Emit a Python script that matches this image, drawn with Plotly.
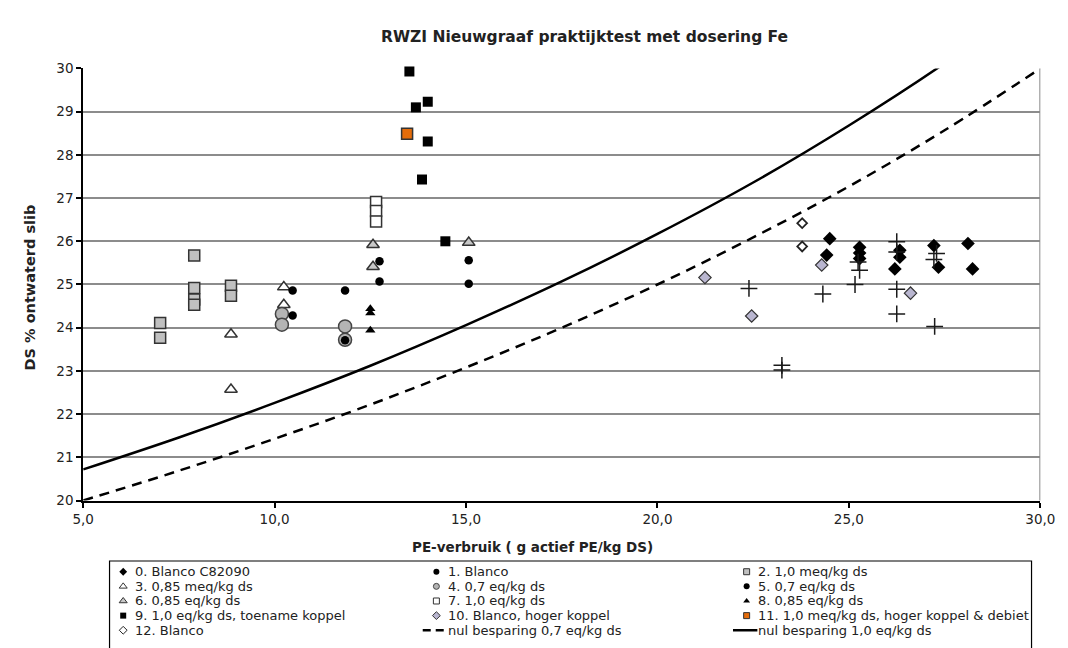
import plotly.graph_objects as go

W, H = 1068, 648

# ---------------- data ----------------
title_text = "RWZI Nieuwgraaf praktijktest met dosering Fe"
x_title = "PE-verbruik ( g actief PE/kg DS)"
y_title = "DS % ontwaterd slib"

names = [
    "0. Blanco C82090", "1. Blanco", "2. 1,0 meq/kg ds",
    "3. 0,85 meq/kg ds", "4. 0,7 eq/kg ds", "5. 0,7 eq/kg ds",
    "6. 0,85 eq/kg ds", "7. 1,0 eq/kg ds", "8. 0,85 eq/kg ds",
    "9. 1,0 eq/kg ds, toename koppel", "10. Blanco, hoger koppel",
    "11. 1,0 meq/kg ds, hoger koppel & debiet", "12. Blanco",
]
line_names = ["nul besparing 0,7 eq/kg ds", "nul besparing 1,0 eq/kg ds"]

s0_x = [24.50, 24.42, 25.28, 25.28, 25.28, 26.33, 26.33, 26.20, 27.22, 27.34, 28.11, 28.23]
s0_y = [26.06, 25.68, 25.86, 25.73, 25.60, 25.79, 25.63, 25.36, 25.90, 25.40, 25.95, 25.36]
s1_x = [12.74, 12.74, 15.07, 15.07]
s1_y = [25.54, 25.07, 25.56, 25.02]
s2_x = [7.01, 7.01, 7.90, 7.90, 7.90, 7.90, 8.86, 8.86]
s2_y = [24.11, 23.77, 25.67, 24.92, 24.65, 24.53, 24.97, 24.74]
s3_x = [8.86, 8.86, 10.24, 10.24]
s3_y = [23.85, 22.57, 24.94, 24.53]
s4_x = [10.19, 10.19, 11.84, 11.84]
s4_y = [24.32, 24.07, 24.03, 23.72]
s5_x = [10.47, 10.47, 11.84, 11.84]
s5_y = [24.86, 24.28, 24.86, 23.71]
s6_x = [12.57, 12.57, 15.07]
s6_y = [25.92, 25.41, 25.97]
s7_x = [12.65, 12.65, 12.65]
s7_y = [26.91, 26.70, 26.46]
s8_x = [12.50, 12.50, 12.50]
s8_y = [24.44, 24.34, 23.94]
s9_x = [13.52, 13.69, 14.00, 14.00, 13.85, 14.46]
s9_y = [29.93, 29.10, 29.23, 28.31, 27.43, 26.00]
s10_x = [21.24, 22.46, 24.29, 26.61]
s10_y = [25.16, 24.27, 25.45, 24.80]
s11_x = [13.46]
s11_y = [28.49]
s12_x = [23.78, 23.78]
s12_y = [26.42, 25.88]
plus_x = [22.39, 23.25, 23.25, 24.32, 25.16, 25.28, 25.24, 26.25, 26.25, 26.25, 26.25, 27.22, 27.29, 27.24]
plus_y = [24.91, 23.13, 23.02, 24.78, 25.00, 25.33, 25.52, 25.99, 25.75, 24.89, 24.32, 25.58, 25.72, 24.03]

curve_x = [5, 7.5, 10, 12.5, 15, 17.5, 20, 22.5, 25, 27.5, 30]
curve_07_y = [20.00, 20.69, 21.43, 22.22, 23.08, 24.00, 25.00, 26.09, 27.27, 28.57, 30.00]
curve_10_y = [20.72, 21.46, 22.26, 23.12, 24.06, 25.07, 26.17, 27.36, 28.68, 30.12, 31.72]

x_ticks = [5, 10, 15, 20, 25, 30]
y_ticks = list(range(20, 31))

series_x = [s0_x, s1_x, s2_x, s3_x, s4_x, s5_x, s6_x, s7_x, s8_x, s9_x, s10_x, s11_x, s12_x]
series_y = [s0_y, s1_y, s2_y, s3_y, s4_y, s5_y, s6_y, s7_y, s8_y, s9_y, s10_y, s11_y, s12_y]

# ---------------- styles ----------------
FONT = "DejaVu Sans"
GRID = "#8c8c8c"
OUT = "#333333"
styles = [
    dict(symbol="diamond", size=10.5, color="black", line=dict(width=0)),
    dict(symbol="circle", size=8.5, color="black", line=dict(width=0)),
    dict(symbol="square", size=11, color="#c0c0c0", line=dict(color=OUT, width=1.5)),
    dict(symbol="triangle-up", size=11, color="white", line=dict(color=OUT, width=1.5)),
    dict(symbol="circle", size=13, color="#b4b4b4", line=dict(color="#444444", width=1.5)),
    dict(symbol="circle", size=8.5, color="black", line=dict(width=0)),
    dict(symbol="triangle-up", size=11, color="#c8c8c8", line=dict(color=OUT, width=1.5)),
    dict(symbol="square", size=11, color="white", line=dict(color=OUT, width=1.5)),
    dict(symbol="triangle-up", size=9, color="black", line=dict(width=0)),
    dict(symbol="square", size=10, color="black", line=dict(width=0)),
    dict(symbol="diamond", size=9.5, color="#b9b6d0", line=dict(color=OUT, width=1.2)),
    dict(symbol="square", size=11, color="#e46c0a", line=dict(color=OUT, width=1.5)),
    dict(symbol="diamond", size=7.5, color="white", line=dict(color="#222222", width=1.8)),
]
legend_sizes = [6, 6, 6, 7, 6, 6, 7, 6, 6, 6, 6, 6, 6]

fig = go.Figure()

# curves
fig.add_trace(go.Scatter(x=curve_x, y=curve_07_y, mode="lines", name=line_names[0],
                         line=dict(color="black", width=2.5, dash="10px,7px", shape="spline"),
                         showlegend=False))
fig.add_trace(go.Scatter(x=curve_x, y=curve_10_y, mode="lines", name=line_names[1],
                         line=dict(color="black", width=2.5, shape="spline"),
                         showlegend=False))

# point series
for nm, sx, sy, st in zip(names, series_x, series_y, styles):
    fig.add_trace(go.Scatter(x=sx, y=sy, mode="markers", name=nm, marker=st,
                             showlegend=False, cliponaxis=False))
fig.add_trace(go.Scatter(x=plus_x, y=plus_y, mode="markers",
                         marker=dict(symbol="cross-thin", size=12,
                                     line=dict(color="#1a1a1a", width=1.5)),
                         showlegend=False, cliponaxis=False))

# ---------------- layout ----------------
x0_px, x1_px, ytop_px, ybot_px = 74, 1055, 62, 505
fig.update_layout(
    width=W, height=H, margin=dict(l=0, r=0, t=0, b=0),
    paper_bgcolor="white", plot_bgcolor="rgba(0,0,0,0)", showlegend=False,
    separators=",.",
    font=dict(family=FONT, size=12, color="#222222"),
    xaxis=dict(domain=[x0_px / W, x1_px / W], range=[5, 30], tickvals=x_ticks,
               tickformat=".1f", ticks="outside", ticklen=5, tickcolor="black", tickwidth=1.5,
               showline=True, linecolor="black", linewidth=2, showgrid=False, zeroline=False,
               ticklabeloverflow="allow",
               tickfont=dict(size=13.5, color="#222222"), anchor="y"),
    yaxis=dict(domain=[1 - ybot_px / H, 1 - ytop_px / H], range=[20, 30], tickvals=y_ticks,
               ticks="outside", ticklen=5, tickcolor="black", tickwidth=1.5,
               showline=True, linecolor="black", linewidth=2, showgrid=True,
               gridcolor=GRID, gridwidth=2, zeroline=False,
               tickfont=dict(size=13.5, color="#222222"), anchor="x"),
    xaxis2=dict(domain=[0, 1], range=[0, W], visible=False, anchor="y2", fixedrange=True),
    yaxis2=dict(domain=[0, 1], range=[H, 0], visible=False, anchor="x2", fixedrange=True),
)

# right border of plot area
fig.add_shape(type="line", xref="x", yref="y domain", x0=30, x1=30, y0=0, y1=1,
              line=dict(color=GRID, width=2))

annotations = [
    dict(text="<b>" + title_text + "</b>", x=588 / W, y=1 - 30 / H, xref="paper", yref="paper",
         xanchor="center", yanchor="middle", showarrow=False, font=dict(size=15.5, family=FONT)),
    dict(text="<b>" + x_title + "</b>", x=534 / W, y=1 - 553 / H, xref="paper", yref="paper",
         xanchor="center", yanchor="middle", showarrow=False, font=dict(size=13.5, family=FONT)),
    dict(text="<b>" + y_title + "</b>", x=19 / W, y=1 - 287 / H, xref="paper", yref="paper",
         xanchor="center", yanchor="middle", showarrow=False, textangle=-90,
         font=dict(size=14.5, family=FONT)),
]

# ---------------- legend (drawn manually, 3 columns) ----------------
leg_left, leg_right, leg_top = 101, 1046, 567
fig.add_shape(type="rect", xref="paper", yref="paper", x0=leg_left / W, x1=leg_right / W,
              y0=1 - 660 / H, y1=1 - leg_top / H, line=dict(color="black", width=1.2),
              fillcolor="rgba(0,0,0,0)", layer="above")
col_marker = [115, 436, 754]
col_text = [125, 446, 764]
row0, row_step = 578, 15
entries = names + line_names
for i, nm in enumerate(entries):
    r, c = divmod(i, 3)
    ypx = row0 + r * row_step
    mx = col_marker[c]
    if i < len(names):
        st = dict(styles[i])
        st["size"] = legend_sizes[i]
        if st["line"].get("width", 0) > 1:
            st["line"] = dict(color=st["line"]["color"], width=1)
        fig.add_trace(go.Scatter(x=[mx], y=[ypx], xaxis="x2", yaxis="y2", mode="markers",
                                 marker=st, showlegend=False, hoverinfo="skip"))
    else:
        ln = dict(color="black", width=2.5)
        if i == len(names):
            ln["dash"] = "8px,5px"
        fig.add_trace(go.Scatter(x=[mx - 14, mx + 11], y=[ypx, ypx], xaxis="x2", yaxis="y2",
                                 mode="lines", line=ln, showlegend=False, hoverinfo="skip"))
    annotations.append(dict(text=nm, x=col_text[c] / W, y=1 - ypx / H, xref="paper", yref="paper",
                            xanchor="left", yanchor="middle", showarrow=False,
                            font=dict(size=13, family=FONT, color="#222222")))

fig.update_layout(annotations=annotations)
fig.write_html("out.html")
